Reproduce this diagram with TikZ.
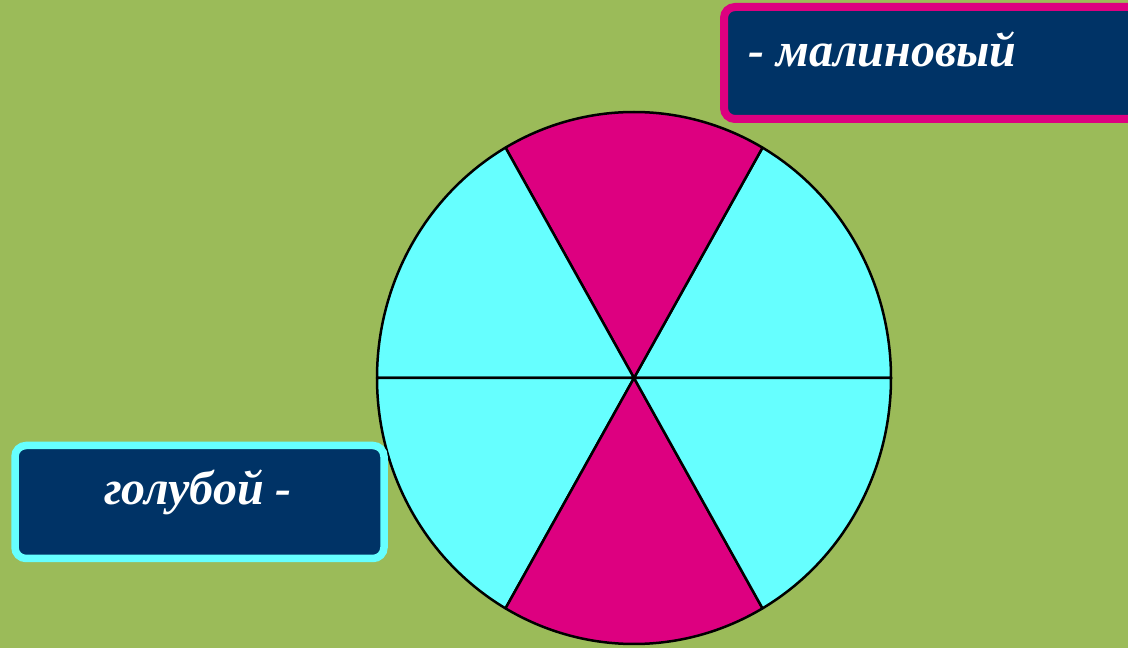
\documentclass[tikz,border=0pt]{standalone}
\usepackage{fontspec}
\setmainfont{Liberation Serif}
\usetikzlibrary{calc}
\definecolor{bggreen}{RGB}{155,187,89}
\definecolor{navy}{RGB}{0,51,102}
\definecolor{crimson}{RGB}{221,0,128}
\definecolor{aqua}{RGB}{102,255,255}
\tikzset{
  labelbox/.style={draw, line width=8pt, fill=navy, rounded corners=11pt, inner sep=0pt},
  labeltext/.style={text=white, font=\fontsize{48}{56}\selectfont\bfseries\itshape, inner sep=0pt},
  sector/.style={draw=black, line width=2.5pt, line join=round}
}
\begin{document}
\begin{tikzpicture}[x=1pt,y=1pt]
\useasboundingbox (0,0) rectangle (1128,648);
\clip (0,0) rectangle (1128,648);
\fill[bggreen] (0,0) rectangle (1128,648);
\coordinate (c) at (634,270);
% sectors
\foreach \a/\col in {0/aqua,60/crimson,120/aqua,180/aqua,240/crimson,300/aqua}{
  \filldraw[sector, fill=\col] (c) -- ($(c)+(\a:257 and 266)$)
    arc[start angle=\a, end angle=\a+60, x radius=257, y radius=266] -- cycle;
}
% boxes
\node[labelbox, draw=crimson, minimum width=416pt, minimum height=112pt] (mbox) at (932,585) {};
\node[labeltext, anchor=base west] (mtext) at (748,581) {- малиновый};
\node[labelbox, draw=aqua, line width=7.5pt, minimum width=369pt, minimum height=113pt] (gbox) at (199.5,146) {};
\node[labeltext, anchor=base] (gtext) at (198,143) {голубой -};
\end{tikzpicture}
\end{document}
